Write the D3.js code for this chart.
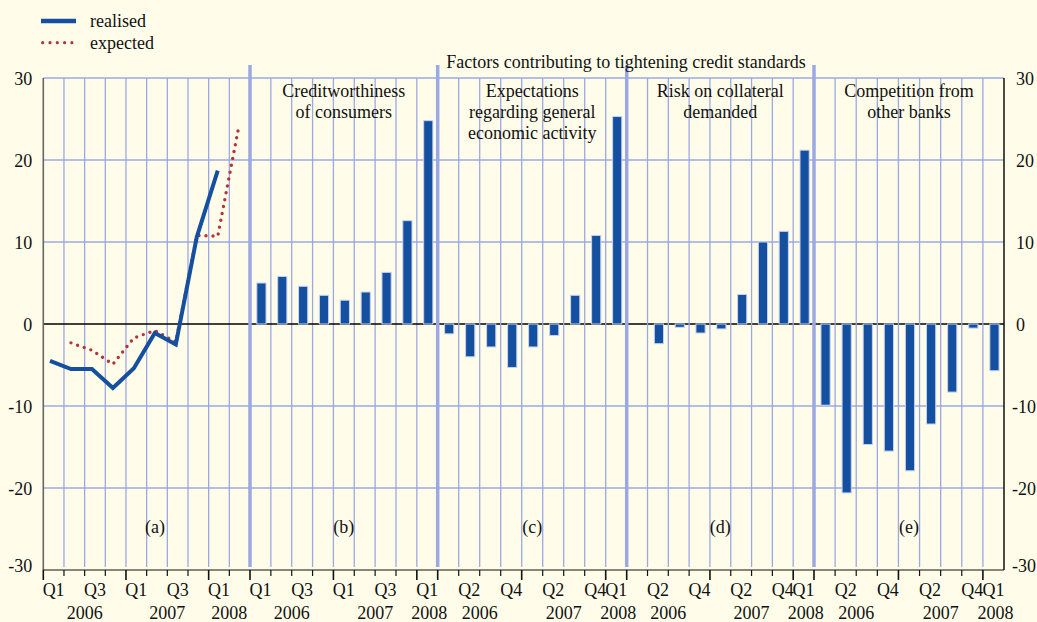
<!DOCTYPE html>
<html><head><meta charset="utf-8">
<script src="https://cdn.jsdelivr.net/npm/d3@7"></script>
<style>
html,body{margin:0;padding:0;background:#fffde9;}
svg{display:block;}
text{font-family:"Liberation Serif","Times New Roman",serif;font-size:18px;fill:#111;}
</style>
</head><body>
<svg id="chart" width="1037" height="622"></svg>
<script>
// ---------- DATA ----------
const quarters = ["Q1 2006","Q2 2006","Q3 2006","Q4 2006","Q1 2007","Q2 2007","Q3 2007","Q4 2007","Q1 2008"];
const quartersA = ["Q1 2006","Q2 2006","Q3 2006","Q4 2006","Q1 2007","Q2 2007","Q3 2007","Q4 2007","Q1 2008","Q2 2008"];
const realised = [-4.5, -5.5, -5.5, -7.8, -5.4, -1.1, -2.5, 10.6, 18.7, null];
const expected = [null, -2.3, -3.2, -4.9, -1.7, -0.8, -2.2, 10.8, 10.7, 24.0];
const creditworthiness = [5.0, 5.8, 4.6, 3.5, 2.9, 3.9, 6.3, 12.6, 24.8];
const expectations = [-1.2, -4.0, -2.8, -5.3, -2.8, -1.4, 3.5, 10.8, 25.3];
const collateral = [null, -2.4, -0.4, -1.1, -0.6, 3.6, 10.0, 11.3, 21.2];
const competition = [-9.9, -20.6, -14.7, -15.5, -17.9, -12.2, -8.3, -0.5, -5.7];
const yTicks = [-30, -20, -10, 0, 10, 20, 30];
const tickLabelsA = ["Q1","","Q3","","Q1","","Q3","","Q1",""];
const tickLabelsB = ["Q1","","Q3","","Q1","","Q3","","Q1"];
const tickLabelsCDE = ["","Q2","","Q4","","Q2","","Q4","Q1"];
const yearLabels = ["2006","2007","2008"];
const panelLetters = ["(a)","(b)","(c)","(d)","(e)"];
const panelTitles = [
  [],
  ["Creditworthiness","of consumers"],
  ["Expectations","regarding general","economic activity"],
  ["Risk on collateral","demanded"],
  ["Competition from","other banks"]
];
const mainTitle = "Factors contributing to tightening credit standards";
const legendLabels = ["realised","expected"];

// ---------- STYLE ----------
const C = {grid:"#9ca8e2", bar:"#1550a0", barStroke:"#c6d2f2", line:"#1550a0", dots:"#b3343a", axis:"#111", laxis:"#666"};

const svg = d3.select("#chart");
const y = d3.scaleLinear().domain([-30, 30]).range([570, 78]);
const X0 = 43.3, X1 = 1004;
const fmt = d => String(d);  // plain hyphen-minus as in the reference

const panels = [
  {x0:43.3, x1:250, dom:quartersA, ticks:tickLabelsA, years:[1.5,5.5,8.5]},
  {x0:250, x1:437.7, dom:quarters, ticks:tickLabelsB, years:[1.5,5.5,8.1], vals:creditworthiness},
  {x0:437.7, x1:626.7, dom:quarters, ticks:tickLabelsCDE, years:[1.5,5.5,8.1], vals:expectations},
  {x0:626.7, x1:814, dom:quarters, ticks:tickLabelsCDE, years:[1.5,5.5,8.1], vals:collateral},
  {x0:814, x1:X1, dom:quarters, ticks:tickLabelsCDE, years:[1.5,5.5,8.1], vals:competition}
];
panels.forEach(p => { p.x = d3.scaleBand().domain(p.dom).range([p.x0, p.x1]).padding(0); });

// horizontal grid
svg.append("g").selectAll("line").data(yTicks.filter(d => d !== 0 && d !== -30)).join("line")
  .attr("x1", X0).attr("x2", X1).attr("y1", d => y(d)).attr("y2", d => y(d))
  .attr("stroke", C.grid).attr("stroke-width", 1.3);

// zero line (under vertical grid in panels c-e, over in a-b)
svg.append("line").attr("x1", panels[2].x0).attr("x2", X1).attr("y1", y(0)).attr("y2", y(0))
  .attr("stroke", "#000").attr("stroke-width", 1.6);

// vertical grid
panels.forEach(p => {
  const bounds = p.dom.slice(1).map(q => p.x(q));
  svg.append("g").selectAll("line").data(bounds).join("line")
    .attr("x1", d => d).attr("x2", d => d).attr("y1", y(30)).attr("y2", 567)
    .attr("stroke", C.grid).attr("stroke-width", 1.3);
});
svg.append("line").attr("x1", X0).attr("x2", panels[2].x0).attr("y1", y(0)).attr("y2", y(0))
  .attr("stroke", "#000").attr("stroke-width", 1.6);

// panel separators
svg.append("g").selectAll("line").data(panels.slice(1).map(p => p.x0)).join("line")
  .attr("x1", d => d).attr("x2", d => d).attr("y1", 65).attr("y2", 567)
  .attr("stroke", C.grid).attr("stroke-width", 3.5);

// left and right axes
svg.append("line").attr("x1", X0).attr("x2", X0).attr("y1", y(30)).attr("y2", 570)
  .attr("stroke", C.laxis).attr("stroke-width", 1.6);
svg.append("line").attr("x1", X1).attr("x2", X1).attr("y1", y(30)).attr("y2", 570)
  .attr("stroke", "#000").attr("stroke-width", 1.4);

const yl = d3.axisLeft(y).tickValues(yTicks).tickFormat(fmt).tickSize(0).tickPadding(11);
const gL = svg.append("g").attr("transform", `translate(${X0},0)`).call(yl);
gL.select(".domain").remove();
gL.selectAll("text").attr("font-family", null).attr("font-size", null).attr("fill", null)
  .attr("dy", d => d === -30 ? "0.1em" : "0.36em");
const yr = d3.axisRight(y).tickValues(yTicks).tickFormat(fmt).tickSize(0).tickPadding(12);
const gR = svg.append("g").attr("transform", `translate(${X1},0)`).call(yr);
gR.select(".domain").remove();
gR.selectAll("text").attr("font-family", null).attr("font-size", null).attr("fill", null)
  .attr("x", d => d < 0 ? 8 : 12)
  .attr("dy", d => d === -30 ? "0.1em" : "0.36em");

// bottom axis
svg.append("line").attr("x1", X0).attr("x2", X1).attr("y1", 570).attr("y2", 570)
  .attr("stroke", C.axis).attr("stroke-width", 1.2);
panels.forEach(p => {
  const g = svg.append("g");
  g.selectAll("line").data(p.dom).join("line")
    .attr("x1", d => p.x(d)).attr("x2", d => p.x(d))
    .attr("y1", 570).attr("y2", d => d.startsWith("Q1") ? 580 : 576)
    .attr("stroke", C.axis).attr("stroke-width", d => d.startsWith("Q1") ? 1.6 : 1.2);
  g.selectAll("text.q").data(p.dom.map((d, i) => ({d, t:p.ticks[i]})).filter(o => o.t)).join("text")
    .attr("class", "q")
    .attr("x", o => p.x(o.d) + p.x.bandwidth() / 2).attr("y", 596)
    .attr("text-anchor", "middle").text(o => o.t);
  const bw = p.x.bandwidth();
  g.selectAll("text.yr").data(yearLabels).join("text").attr("class", "yr")
    .attr("x", (d, i) => p.x0 + bw * (p.years[i] + 0.5)).attr("y", 619)
    .attr("text-anchor", "middle").text(d => d);
});

// bars
panels.slice(1).forEach(p => {
  const bw = 9.2;
  svg.append("g").selectAll("rect").data(p.dom.map((q, i) => ({q, v:p.vals[i]})).filter(o => o.v != null)).join("rect")
    .attr("x", o => p.x(o.q) + p.x.bandwidth() / 2 - bw / 2 + 1)
    .attr("width", bw)
    .attr("y", o => y(Math.max(0, o.v)))
    .attr("height", o => Math.abs(y(o.v) - y(0)))
    .attr("fill", C.bar).attr("stroke", C.barStroke).attr("stroke-width", 1);
});

// panel (a) lines
const xl = d3.scalePoint().domain(quartersA).range([50, 238.7]);
const lineGen = d3.line().defined(d => d.v != null).x(d => xl(d.q)).y(d => y(d.v));
svg.append("path").datum(quartersA.map((q, i) => ({q, v:expected[i]})))
  .attr("d", lineGen).attr("fill", "none").attr("stroke", C.dots)
  .attr("stroke-width", 3.4).attr("stroke-linecap", "round").attr("stroke-dasharray", "0 7");
svg.append("path").datum(quartersA.map((q, i) => ({q, v:realised[i]})))
  .attr("d", lineGen).attr("fill", "none").attr("stroke", C.line)
  .attr("stroke-width", 4).attr("stroke-linejoin", "miter");

// titles
svg.append("text").attr("x", 626).attr("y", 68).attr("text-anchor", "middle").text(mainTitle);
panels.forEach((p, i) => {
  const cx = i === 0 ? 155 : (p.x0 + p.x1) / 2;
  svg.append("text").attr("x", cx).attr("y", 533).attr("text-anchor", "middle").text(panelLetters[i]);
  panelTitles[i].forEach((t, j) => {
    svg.append("text").attr("x", cx).attr("y", 97 + j * 21).attr("text-anchor", "middle").text(t);
  });
});

// legend
const lg = svg.append("g");
lg.append("line").attr("x1", 41).attr("x2", 76).attr("y1", 21).attr("y2", 21)
  .attr("stroke", C.line).attr("stroke-width", 4.5);
lg.append("line").attr("x1", 42.7).attr("x2", 76).attr("y1", 42.7).attr("y2", 42.7)
  .attr("stroke", C.dots).attr("stroke-width", 3.2).attr("stroke-linecap", "round").attr("stroke-dasharray", "0 7.3");
lg.selectAll("text").data(legendLabels).join("text")
  .attr("x", 90).attr("y", (d, i) => 27 + i * 21.5).text(d => d);
</script>
</body></html>
